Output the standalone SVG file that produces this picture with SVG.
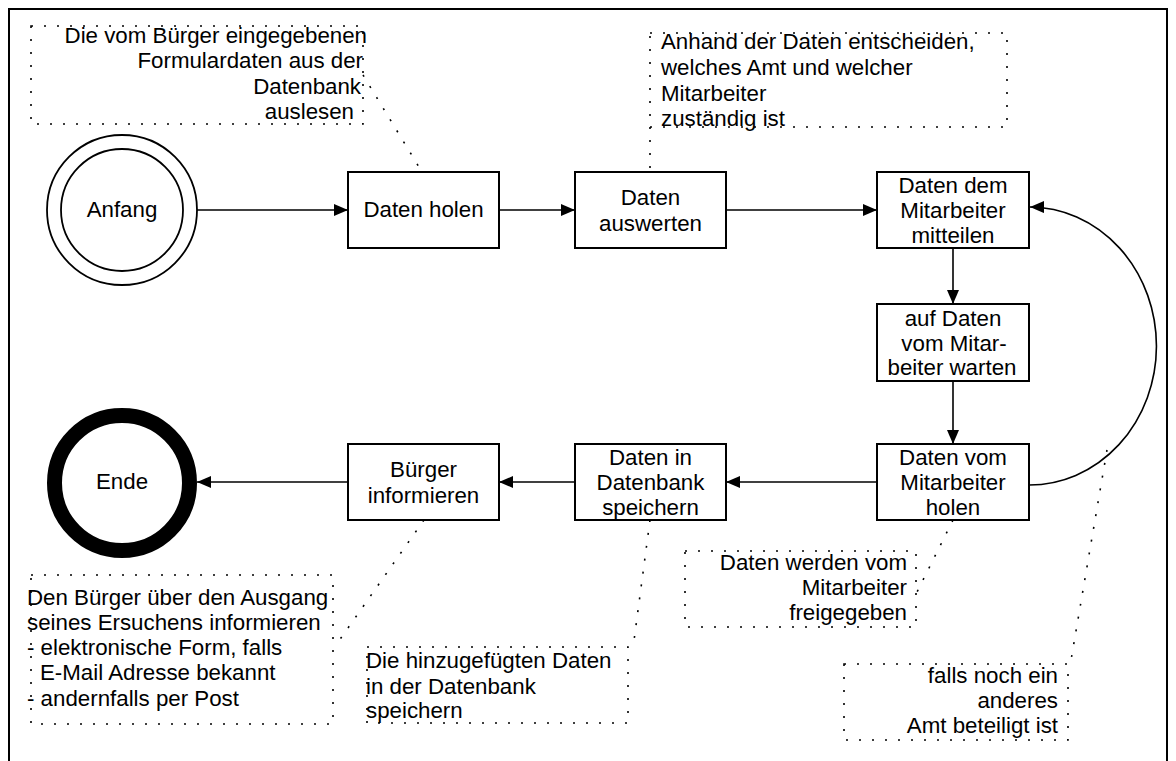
<svg xmlns="http://www.w3.org/2000/svg" width="1176" height="761" viewBox="0 0 1176 761">
  <defs>
    <marker id="arrow" markerUnits="userSpaceOnUse" viewBox="0 0 14 12" refX="14" refY="6" markerWidth="14" markerHeight="12" orient="auto">
      <path d="M0,0 L14,6 L0,12 z" fill="#000"/>
    </marker>
    <style>
      text { font-family: "Liberation Sans", Arial, sans-serif; font-size: 22.3px; fill: #000; }
      .c { text-anchor: middle; }
      .r { text-anchor: end; }
      .box { fill: #fff; stroke: #000; stroke-width: 2; }
      .flow { fill: none; stroke: #000; stroke-width: 1.6; marker-end: url(#arrow); }
      .note { fill: none; stroke: #000; stroke-width: 1.6; stroke-dasharray: 2 11; }
    </style>
  </defs>

  <rect width="1176" height="761" fill="#fff"/>
  <!-- outer frame -->
  <path d="M9,761 V9 H1167 V761" fill="none" stroke="#000" stroke-width="2"/>

  <!-- connectors -->
  <g id="connectors">
    <line class="flow" x1="197" y1="210" x2="348" y2="210"/>
    <line class="flow" x1="499" y1="210" x2="575" y2="210"/>
    <line class="flow" x1="726" y1="210" x2="877" y2="210"/>
    <line class="flow" x1="953" y1="248" x2="953" y2="304"/>
    <line class="flow" x1="953" y1="381" x2="953" y2="444"/>
    <line class="flow" x1="877" y1="482" x2="726" y2="482"/>
    <line class="flow" x1="575" y1="482" x2="499" y2="482"/>
    <line class="flow" x1="348" y1="482" x2="197" y2="482"/>
    <path class="flow" d="M1029,485 A127,139 0 0 0 1030,207"/>
    <!-- annotation leaders -->
    <line class="note" x1="363" y1="75" x2="422" y2="172"/>
    <line class="note" x1="650" y1="127" x2="650" y2="172"/>
    <line class="note" x1="953" y1="520" x2="915" y2="596"/>
    <line class="note" x1="1107" y1="450" x2="1070" y2="666"/>
    <line class="note" x1="650" y1="520" x2="633" y2="648"/>
    <line class="note" x1="424" y1="520" x2="336" y2="645"/>
  </g>

  <!-- start / end states -->
  <g id="start">
    <circle cx="122" cy="210" r="75" fill="#fff" stroke="#000" stroke-width="1.8"/>
    <circle cx="122" cy="210" r="61" fill="none" stroke="#000" stroke-width="1.8"/>
    <text class="c" x="122" y="217">Anfang</text>
  </g>
  <g id="end">
    <circle cx="122" cy="483" r="67.5" fill="#fff" stroke="#000" stroke-width="15"/>
    <text class="c" x="122" y="489">Ende</text>
  </g>

  <!-- process steps -->
  <g id="daten-holen">
    <rect class="box" x="348" y="172" width="151" height="76"/>
    <text class="c" x="423.5" y="217">Daten holen</text>
  </g>
  <g id="daten-auswerten">
    <rect class="box" x="575" y="172" width="151" height="76"/>
    <text class="c" x="650.5" y="205">Daten</text>
    <text class="c" x="650.5" y="231">auswerten</text>
  </g>
  <g id="daten-mitteilen">
    <rect class="box" x="877" y="172" width="152" height="76"/>
    <text class="c" x="953" y="193">Daten dem</text>
    <text class="c" x="953" y="218">Mitarbeiter</text>
    <text class="c" x="953" y="243">mitteilen</text>
  </g>
  <g id="daten-warten">
    <rect class="box" x="877" y="304" width="152" height="77"/>
    <text class="c" x="953" y="326">auf Daten</text>
    <text class="c" x="954" y="351">vom Mitar-</text>
    <text class="c" x="952" y="375">beiter warten</text>
  </g>
  <g id="daten-vom-mitarbeiter">
    <rect class="box" x="877" y="444" width="152" height="76"/>
    <text class="c" x="953" y="465">Daten vom</text>
    <text class="c" x="953" y="490">Mitarbeiter</text>
    <text class="c" x="953" y="515">holen</text>
  </g>
  <g id="daten-speichern">
    <rect class="box" x="575" y="444" width="151" height="76"/>
    <text class="c" x="650.5" y="465">Daten in</text>
    <text class="c" x="650.5" y="490">Datenbank</text>
    <text class="c" x="650.5" y="515">speichern</text>
  </g>
  <g id="buerger-informieren">
    <rect class="box" x="348" y="444" width="151" height="76"/>
    <text class="c" x="423.5" y="477">Bürger</text>
    <text class="c" x="423.5" y="503">informieren</text>
  </g>

  <!-- annotations -->
  <g id="note-daten-holen">
    <rect class="note" x="31" y="26" width="332" height="98"/>
    <text class="r" x="367" y="43">Die vom Bürger eingegebenen</text>
    <text class="r" x="363" y="68">Formulardaten aus der</text>
    <text class="r" x="361" y="94">Datenbank</text>
    <text class="r" x="354" y="119">auslesen</text>
  </g>
  <g id="note-auswerten">
    <rect class="note" x="650" y="33" width="357" height="94"/>
    <text x="661" y="49">Anhand der Daten entscheiden,</text>
    <text x="661" y="75">welches Amt und welcher</text>
    <text x="661" y="101">Mitarbeiter</text>
    <text x="661" y="126">zuständig ist</text>
  </g>
  <g id="note-freigabe">
    <rect class="note" x="685" y="551" width="231" height="76"/>
    <text class="r" x="907" y="570">Daten werden vom</text>
    <text class="r" x="907" y="595">Mitarbeiter</text>
    <text class="r" x="907" y="620">freigegeben</text>
  </g>
  <g id="note-anderes-amt">
    <rect class="note" x="844" y="664" width="224" height="76"/>
    <text class="r" x="1058" y="683">falls noch ein</text>
    <text class="r" x="1058" y="708">anderes</text>
    <text class="r" x="1058" y="733">Amt beteiligt ist</text>
  </g>
  <g id="note-speichern">
    <rect class="note" x="367" y="647" width="261" height="76"/>
    <text x="366" y="668">Die hinzugefügten Daten</text>
    <text x="366" y="694">in der Datenbank</text>
    <text x="366" y="718">speichern</text>
  </g>
  <g id="note-informieren">
    <rect class="note" x="31" y="575" width="302" height="149"/>
    <text x="27" y="605">Den Bürger über den Ausgang</text>
    <text x="27" y="630">seines Ersuchens informieren</text>
    <text x="27" y="655">- elektronische Form, falls</text>
    <text x="40" y="680">E-Mail Adresse bekannt</text>
    <text x="27" y="706">- andernfalls per Post</text>
  </g>
</svg>
